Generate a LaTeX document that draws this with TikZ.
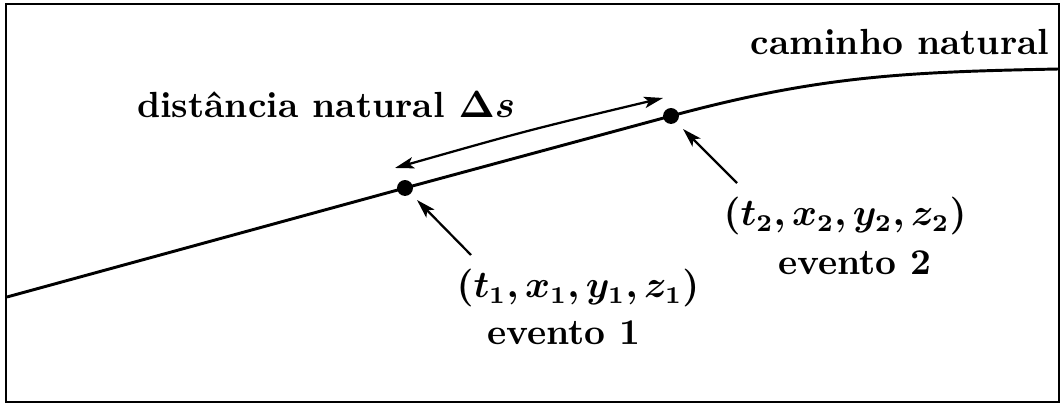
\documentclass[tikz,border=0pt]{standalone}
\usepackage{bm}
\usetikzlibrary{arrows.meta}
\begin{document}
\begin{tikzpicture}[x=0.289pt,y=-0.289pt,
  evdot/.style={circle,fill=black,inner sep=0pt,minimum size=4.6pt},
  curveline/.style={line width=0.85pt},
  pointer/.style={line width=0.65pt,-{Stealth[length=5.5pt,width=3.3pt,inset=1.3pt]}},
  dblarrow/.style={line width=0.65pt,{Stealth[length=5.5pt,width=3.3pt,inset=1.3pt]}-{Stealth[length=5.5pt,width=3.3pt,inset=1.3pt]}},
  lbl/.style={inner sep=0pt,font=\fontsize{10.5}{12.6}\selectfont\bfseries}]
\useasboundingbox (0,0) rectangle (1063,407);
\draw[line width=0.5pt] (6,4) rectangle (1059,402);
\coordinate (s) at (7,297);
\coordinate (e) at (1059,69);
\node[evdot] (d1) at (405,188) {};
\node[evdot] (d2) at (671,116) {};
\draw[curveline] (s) -- (d1.center) -- (d2.center) .. controls (821,75.5) and (907,72) .. (e);
\coordinate (a1) at (395,168);
\coordinate (a2) at (663,98);
\draw[dblarrow] (a1) .. controls (529,130) .. (a2);
\coordinate (p1) at (471,255);
\coordinate (q1) at (417,200);
\draw[pointer] (p1) -- (q1);
\coordinate (p2) at (737,183);
\coordinate (q2) at (683,129);
\draw[pointer] (p2) -- (q2);
\node[lbl,anchor=base] (c1) at (578,298) {$\bm{(t_1,x_1,y_1,z_1)}$};
\node[lbl,anchor=base] (ev1) at (564,345) {evento 1};
\node[lbl,anchor=base] (c2) at (845,226) {$\bm{(t_2,x_2,y_2,z_2)}$};
\node[lbl,anchor=base] (ev2) at (855,275) {evento 2};
\node[lbl,anchor=base] (cn) at (900,55) {caminho natural};
\node[lbl,anchor=base] (dn) at (326,118) {distância natural $\bm{\Delta s}$};
\end{tikzpicture}
\end{document}
